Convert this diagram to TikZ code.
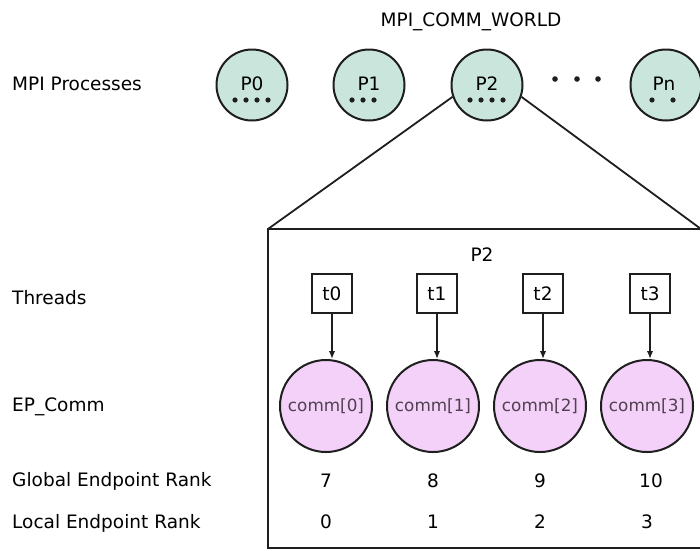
\documentclass[tikz,border=0pt]{standalone}
\usepackage{fontspec}
\setmainfont{DejaVu Sans}
\usetikzlibrary{arrows.meta}
\definecolor{procfill}{RGB}{201,229,220}
\definecolor{commfill}{RGB}{243,209,249}
\definecolor{commtext}{RGB}{80,64,80}
\definecolor{linecol}{RGB}{30,30,30}
\begin{document}
\begin{tikzpicture}[x=1pt,y=-1pt,
  every node/.style={font=\fontsize{18.5}{22}\selectfont, inner sep=0pt},
  proc/.style={circle, draw=linecol, line width=2pt, fill=procfill, minimum size=71pt},
  commnode/.style={circle, draw=linecol, line width=2pt, fill=commfill, minimum size=92pt,
    text=commtext, font=\fontsize{16.8}{20}\selectfont},
  thread/.style={draw=linecol, line width=1.8pt, minimum width=40.5pt, minimum height=39.5pt},
  rowlabel/.style={anchor=base west},
  numlabel/.style={anchor=base},
  procdot/.style={fill=linecol},
  link/.style={draw=linecol, line width=1.8pt},
  arr/.style={draw=linecol, line width=1.6pt, -{Latex[length=8pt,width=6.5pt]}}
]
\useasboundingbox (0,0) rectangle (700,550);
\clip (0,0) rectangle (700,550);

% title
\node[anchor=base] (world) at (471,26) {MPI\_COMM\_WORLD};

% row labels
\node[rowlabel] (lproc) at (12,90) {MPI Processes};
\node[rowlabel] (lthr) at (12,304) {Threads};
\node[rowlabel] (lep) at (12,411) {EP\_Comm};
\node[rowlabel] (lglob) at (12,486) {Global Endpoint Rank};
\node[rowlabel] (lloc) at (12,528) {Local Endpoint Rank};

% MPI processes
\node[proc] (P0) at (252,85) {};
\node[proc] (P1) at (369,85) {};
\node[proc] (P2) at (487,85) {};
\node[proc] (Pn) at (666,85) {};
\node[anchor=base] (tP0) at (252,90) {P0};
\node[anchor=base] (tP1) at (369,90) {P1};
\node[anchor=base] (tP2) at (487,90) {P2};
\node[anchor=base] (tPn) at (664,90) {Pn};
\foreach \x in {235,246,257,268} \fill[procdot] (\x,100) circle (2.6pt);
\foreach \x in {352,363,374} \fill[procdot] (\x,100) circle (2.6pt);
\foreach \x in {470,481,492,503} \fill[procdot] (\x,100) circle (2.6pt);
\foreach \x in {652,673} \fill[procdot] (\x,100) circle (2.6pt);
\foreach \x in {555,577,598} \fill[procdot] (\x,79) circle (2.8pt);

% expanded box
\coordinate (bnw) at (268,229);
\coordinate (bne) at (701,229);
\coordinate (bse) at (701,548);
\coordinate (bsw) at (268,548);
\draw[link] (bnw) -- (bne) -- (bse) -- (bsw) -- cycle;
\draw[link] (P2.199) -- (bnw);
\draw[link] (P2.341) -- (bne);
\node[anchor=base] (boxtitle) at (482,261) {P2};

% threads and communicators
\foreach \i/\tx/\cx/\g/\gx in {0/332/326/7/326, 1/437/433/8/433, 2/543/540/9/540, 3/650/647/10/651}{
  \node[thread] (t\i) at (\tx,293.5) {t\i};
  \node[commnode] (c\i) at (\cx,406) {comm[\i]};
  \coordinate (a\i) at (\tx,359);
  \draw[arr] (t\i.south) -- (a\i);
  \node[numlabel] (g\i) at (\gx,487) {\g};
  \node[numlabel] (l\i) at (\cx,528) {\i};
}
\end{tikzpicture}
\end{document}
